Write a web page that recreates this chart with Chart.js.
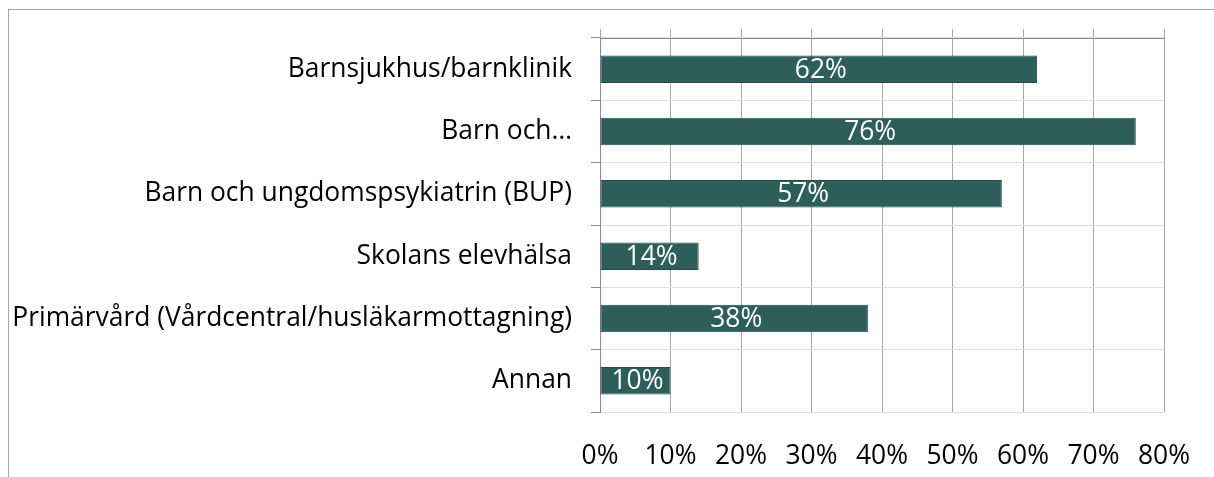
<!DOCTYPE html>
<html>
<head>
<meta charset="utf-8">
<script src="https://cdn.jsdelivr.net/npm/chart.js@4.4.0/dist/chart.umd.min.js"></script>
<style>
  html, body { margin: 0; padding: 0; background: #fff; }
  #frame {
    position: absolute; left: 8px; top: 9px; width: 1206px; height: 468px;
    border-left: 1px solid #a6a6a6; border-top: 1px solid #a6a6a6;
  }
  #wrap { position: absolute; left: 0; top: 0; width: 1214px; height: 477px; }
</style>
</head>
<body>
<div id="frame"></div>
<div id="wrap"><canvas id="bar_canvas" width="1214" height="477"></canvas></div>
<script>
// data
var category_labels = [
  'Barnsjukhus/barnklinik',
  'Barn och\u2026',
  'Barn och ungdomspsykiatrin (BUP)',
  'Skolans elevh\u00e4lsa',
  'Prim\u00e4rv\u00e5rd (V\u00e5rdcentral/husl\u00e4karmottagning)',
  'Annan'
];
var category_values = [62, 76, 57, 14, 38, 10];
var tick_values = [0, 10, 20, 30, 40, 50, 60, 70, 80];

var font_family = "'Open Sans', 'Noto Sans', sans-serif";
var font_size = 26.4;

// white value labels centred inside each bar
var bar_labels_plugin = {
  id: 'bar_labels',
  afterDatasetsDraw: function(chart)
  {
    var ctx = chart.ctx;
    var meta = chart.getDatasetMeta(0);
    ctx.save();
    ctx.fillStyle = '#ffffff';
    ctx.font = font_size + 'px ' + font_family;
    ctx.textAlign = 'center';
    ctx.textBaseline = 'middle';
    meta.data.forEach(function(bar, i)
    {
      var cx = (bar.x + bar.base) / 2 + 2;
      ctx.fillText(category_values[i] + '%', cx, bar.y + 1);
    });
    ctx.restore();
  }
};

var fixed_ticks = function(scale)
{
  scale.ticks = tick_values.map(function(v) { return { value: v }; });
};

var chart_canvas = document.getElementById('bar_canvas').getContext('2d');

new Chart(chart_canvas, {
  type: 'bar',
  data: {
    labels: category_labels,
    datasets: [{
      label: '',
      data: category_values,
      backgroundColor: '#2d5e5a',
      borderColor: '#244a58',
      borderWidth: 1,
      borderSkipped: false,
      categoryPercentage: 0.44,
      barPercentage: 1
    }]
  },
  options: {
    indexAxis: 'y',
    responsive: false,
    animation: false,
    layout: { padding: { left: 10, right: 50, top: 29, bottom: 0 } },
    plugins: { legend: { display: false }, tooltip: { enabled: false } },
    scales: {
      x: {
        position: 'bottom',
        min: 0,
        max: 80,
        afterBuildTicks: fixed_ticks,
        afterFit: function(scale)
        {
          scale.height = 65;
          scale.paddingLeft = 0;
          scale.paddingRight = 0;
        },
        ticks: {
          color: '#000',
          font: { family: font_family, size: font_size },
          padding: 29,
          callback: function(v) { return v + '%'; }
        },
        grid: { color: '#a6a6a6', lineWidth: 1, drawTicks: false },
        border: { display: false }
      },
      x2: {
        position: 'top',
        axis: 'x',
        min: 0,
        max: 80,
        afterBuildTicks: fixed_ticks,
        afterFit: function(scale)
        {
          scale.paddingLeft = 0;
          scale.paddingRight = 0;
        },
        ticks: { display: false },
        grid: { drawOnChartArea: false, color: '#a6a6a6', tickLength: 9 },
        border: { display: true, color: '#8c8c8c', width: 1 }
      },
      y: {
        offset: true,
        afterFit: function(scale) { scale.width = 590; },
        ticks: {
          color: '#000',
          font: { family: font_family, size: font_size },
          padding: 19
        },
        grid: {
          offset: true,
          color: '#dedede',
          tickColor: '#8c8c8c',
          tickLength: 9,
          lineWidth: 1
        },
        border: { display: true, color: '#8c8c8c', width: 1 }
      }
    }
  },
  plugins: [bar_labels_plugin]
});
</script>
</body>
</html>
